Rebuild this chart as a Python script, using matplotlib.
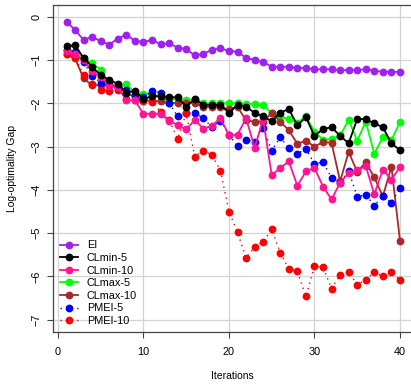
import matplotlib.pyplot as plt
import numpy as np

plt.rcParams['font.family'] = ['Liberation Sans', 'DejaVu Sans']

iterations = np.arange(1, 41)

ei = [-0.11, -0.30, -0.53, -0.46, -0.56, -0.64, -0.50, -0.41, -0.55, -0.58,
      -0.53, -0.63, -0.61, -0.71, -0.74, -0.89, -0.85, -0.76, -0.72, -0.79,
      -0.80, -0.95, -0.99, -1.04, -1.15, -1.15, -1.15, -1.18, -1.18, -1.21,
      -1.21, -1.21, -1.23, -1.23, -1.23, -1.21, -1.24, -1.27, -1.27, -1.27]

clmin5 = [-0.68, -0.65, -0.95, -1.15, -1.35, -1.45, -1.55, -1.76, -1.70, -1.90,
          -1.83, -1.83, -1.85, -1.86, -2.07, -1.89, -2.03, -2.03, -2.03, -2.22,
          -2.03, -2.07, -2.22, -2.30, -2.41, -2.21, -2.13, -2.50, -2.32, -2.75,
          -2.59, -2.55, -2.75, -2.92, -2.36, -2.36, -2.46, -2.55, -2.92, -3.08]

clmin10 = [-0.78, -0.86, -1.00, -1.26, -1.38, -1.59, -1.62, -1.93, -1.93, -2.24,
           -2.24, -2.24, -2.40, -2.50, -2.60, -2.38, -2.58, -2.52, -2.34, -2.73,
           -2.72, -2.34, -3.02, -2.37, -3.66, -3.49, -3.34, -3.90, -3.57, -3.49,
           -3.92, -4.22, -3.83, -3.61, -3.54, -3.45, -4.10, -3.53, -3.76, -3.47]

clmax5 = [-0.76, -0.80, -0.95, -1.07, -1.22, -1.58, -1.65, -1.54, -1.76, -1.78,
          -1.80, -1.85, -1.90, -1.90, -1.92, -1.90, -2.00, -2.00, -2.00, -1.99,
          -1.99, -2.01, -2.01, -2.04, -2.22, -2.30, -2.37, -2.44, -2.30, -2.65,
          -2.84, -2.83, -2.74, -2.38, -2.86, -2.42, -3.16, -2.78, -2.85, -2.42]

clmax10 = [-0.86, -0.96, -1.42, -1.58, -1.57, -1.58, -1.62, -1.75, -1.86, -1.92,
           -1.94, -1.95, -1.99, -1.99, -1.99, -1.98, -2.08, -2.08, -2.09, -2.13,
           -2.08, -2.39, -2.42, -2.42, -2.22, -2.42, -2.62, -2.93, -2.86, -3.00,
           -2.89, -2.91, -3.80, -3.12, -3.58, -3.36, -3.71, -4.15, -3.46, -5.17]

pmei5 = [-0.76, -0.82, -1.05, -1.36, -1.52, -1.55, -1.62, -1.68, -1.80, -1.86,
         -1.70, -1.75, -1.99, -2.30, -2.22, -2.22, -2.34, -2.55, -2.40, -2.72,
         -2.99, -2.85, -2.88, -2.57, -3.09, -2.78, -3.04, -3.16, -3.05, -3.39,
         -3.36, -3.72, -3.83, -3.56, -4.16, -4.11, -4.36, -4.13, -4.29, -3.96]

pmei10 = [-0.86, -0.92, -1.35, -1.55, -1.68, -1.70, -1.68, -1.90, -1.92, -1.95,
          -1.96, -2.19, -2.39, -2.81, -2.23, -3.23, -3.09, -3.19, -3.55, -4.50,
          -4.98, -5.57, -5.32, -5.20, -4.91, -5.45, -5.83, -5.88, -6.46, -5.76,
          -5.79, -6.28, -5.96, -5.90, -6.19, -6.08, -5.90, -6.00, -5.89, -6.09]

series = [
    ("EI", ei, "#a020f0", "-"),
    ("CLmin-5", clmin5, "black", "-"),
    ("CLmin-10", clmin10, "#ff1493", "-"),
    ("CLmax-5", clmax5, "#00ff00", "-"),
    ("CLmax-10", clmax10, "#a52a2a", "-"),
    ("PMEI-5", pmei5, "blue", (0, (1, 3))),
    ("PMEI-10", pmei10, "red", (0, (1, 3))),
]
zorders = {"EI": 3, "CLmin-5": 9, "CLmin-10": 8, "CLmax-5": 4,
           "CLmax-10": 5, "PMEI-5": 6, "PMEI-10": 7}

fig = plt.figure(figsize=(4.11, 3.84), dpi=100)
ax = fig.add_axes([53 / 411, 52.3 / 384, 358 / 411, 326.7 / 384])

for name, vals, col, ls in series:
    lw = 1.0 if ls != "-" else 1.3
    ax.plot(iterations, vals, color=col, linestyle=ls, linewidth=lw,
            marker='o', markersize=4.6, label=name, zorder=zorders[name])

ax.set_xlim(-0.58, 41.29)
ax.set_ylim(-7.277, 0.277)
ax.set_xticks([0, 10, 20, 30, 40])
ax.set_yticks(np.arange(-7, 1))
ax.grid(color='#d3d3d3', linewidth=0.9)
ax.set_axisbelow(True)
ax.spines['right'].set_visible(False)
for s in ['left', 'bottom', 'top']:
    ax.spines[s].set_color('#444444')
    ax.spines[s].set_linewidth(0.9)
ax.tick_params(length=4, width=0.8, color='#444444', labelsize=7.8)
ax.tick_params(axis='x', pad=7)
ax.tick_params(axis='y', pad=4)
plt.setp(ax.get_yticklabels(), rotation=90, va='center')

ax.set_xlabel("Iterations", fontsize=7.5, labelpad=10)
ax.set_ylabel("Log-optimality Gap", fontsize=7.5, labelpad=11)

ax.legend(loc='lower left', bbox_to_anchor=(-0.005, -0.009), frameon=False,
          fontsize=7.8, handlelength=1.7, handletextpad=0.8,
          labelspacing=0.24, borderpad=0.3)

fig.savefig("out.png", dpi=100)
